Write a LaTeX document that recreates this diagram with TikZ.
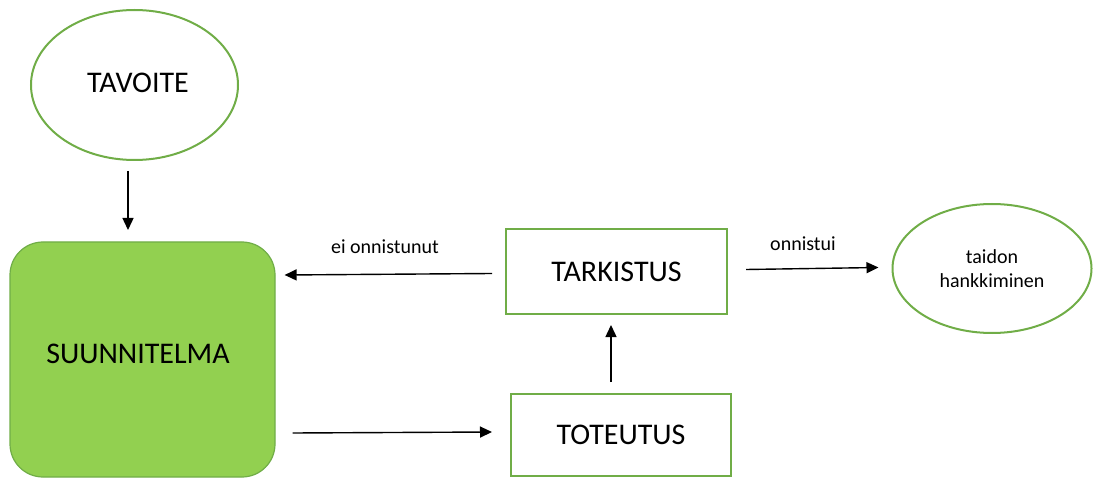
\documentclass[tikz,border=0pt]{standalone}
\usepackage{fontspec}
\setmainfont{Carlito}
\usetikzlibrary{shapes.geometric,arrows.meta,calc}
\definecolor{edgegreen}{HTML}{70AD47}
\definecolor{fillgreen}{HTML}{92D050}
\tikzset{
  oval/.style={ellipse, draw=edgegreen, line width=2pt, inner sep=0pt},
  stepbox/.style={rectangle, draw=edgegreen, line width=2pt, inner sep=0pt},
  planbox/.style={rectangle, rounded corners=33pt, draw=edgegreen, fill=fillgreen, line width=1.2pt, inner sep=0pt},
  bigtext/.style={font=\fontsize{30}{34}\selectfont},
  smalltext/.style={font=\fontsize{20}{24}\selectfont, align=center},
  arr/.style={-{Triangle[length=12pt,width=11pt]}, line width=1.4pt, black},
}
\begin{document}
\begin{tikzpicture}[x=1pt, y=-1pt]
  \useasboundingbox (0,0) rectangle (1095,478);

  % goal and plan
  \node[oval, minimum width=207pt, minimum height=150pt] (tav) at (134.5,85) {};
  \node[bigtext] (tavtext) at (138,83) {TAVOITE};
  \node[planbox, minimum width=265pt, minimum height=235pt] (suun) at (142.5,359.5) {};
  \node[bigtext] (suuntext) at (138,354) {SUUNNITELMA};

  % check and execution
  \node[stepbox, minimum width=221pt, minimum height=85pt, bigtext] (tark) at (616.5,271.5) {TARKISTUS};
  \node[stepbox, minimum width=220pt, minimum height=82pt, bigtext] (tot) at (621,435) {TOTEUTUS};

  % outcome
  \node[oval, minimum width=199pt, minimum height=129pt, smalltext] (taito) at (992,268.5) {taidon\\hankkiminen};

  % connectors
  \draw[arr] ($(tav.south)+(-6.5,10)$) -- ($(tav.south)+(-6.5,69)$);
  \draw[arr] ($(tark.west)+(-13,2)$) -- ($(suun.east |- tark.west)+(9,3.5)$);
  \draw[arr] ($(tark.east)+(18,-2)$) -- ($(taito.west)+(-13,-1)$);
  \draw[arr] ($(tot.north)+(-10,-11)$) -- ($(tark.south)+(-5.5,10)$);
  \draw[arr] ($(suun.east |- tot.west)+(17,-2)$) -- ($(tot.west)+(-18,-3)$);

  % connector labels
  \node[smalltext] (nolbl) at (385,247) {ei onnistunut};
  \node[smalltext] (oklbl) at (803,244) {onnistui};
\end{tikzpicture}
\end{document}
